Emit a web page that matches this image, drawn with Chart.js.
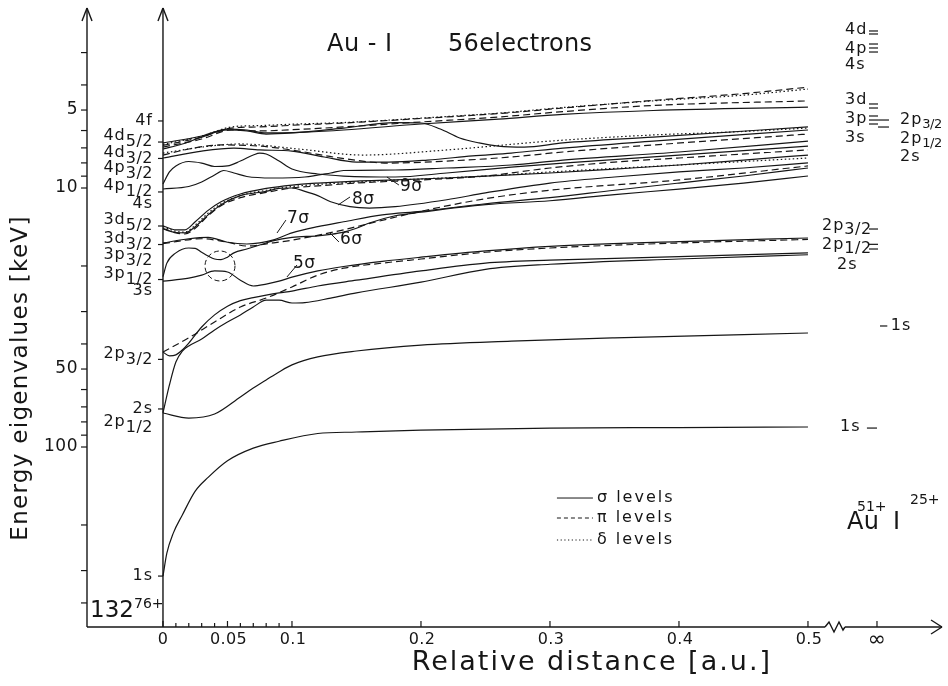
<!DOCTYPE html>
<html><head><meta charset="utf-8">
<script src="https://cdn.jsdelivr.net/npm/chart.js@4.4.1/dist/chart.umd.min.js"></script>
<style>html,body{margin:0;padding:0;background:#fff}canvas{display:block}</style>
</head><body>
<canvas id="c" width="948" height="686"></canvas>
<script>
// ---------- data: relative distance R [a.u.] and energy eigenvalue E [keV] ----------
// sigma (solid) levels
const rA  = [0,0.003,0.008,0.015,0.025,0.035,0.05,0.07,0.09,0.12,0.15,0.2,0.3,0.4,0.5];
const eA  = [315,257,215,183,148,131,113,101,95,88.7,87.5,86,84.5,84.1,83.7];
const rB  = [0,0.02,0.04,0.06,0.07,0.08,0.09,0.1,0.12,0.15,0.2,0.27,0.35,0.5];
const eB  = [73.9,77.3,74.6,64.1,59.2,55.1,51.3,48.2,44.9,42.6,40.4,39.0,37.9,36.3];
const rS  = [0,0.005,0.01,0.015,0.02,0.03,0.04,0.05,0.06,0.07,0.08,0.09,0.1,0.11,0.13,0.15,0.2,0.25,0.3,0.4,0.5];
const eS  = [73.9,57.6,47.0,42.6,40.7,38.3,35.3,32.9,30.9,28.8,27.1,27.1,27.8,27.7,26.6,25.4,23.1,20.6,19.7,18.8,18.1];
const rP  = [0,0.005,0.01,0.015,0.02,0.03,0.04,0.05,0.06,0.07,0.08,0.09,0.1,0.12,0.15,0.2,0.25,0.3,0.4,0.5];
const eP  = [43.0,44.5,44.1,42.2,39.7,34.4,30.9,28.6,27.2,26.5,25.9,25.4,25.0,23.9,22.7,20.9,19.5,19.0,18.4,17.8];
const r5s = [0,0.02,0.03,0.04,0.05,0.06,0.07,0.08,0.09,0.1,0.12,0.14,0.17,0.2,0.25,0.3,0.4,0.5];
const e5s = [22.9,22.3,21.7,20.9,21.1,22.7,23.9,23.5,22.9,22.1,20.9,20.1,19.2,18.5,17.5,16.8,16.1,15.6];
const r6s = [0,0.003,0.01,0.02,0.025,0.03,0.035,0.04,0.045,0.05,0.055,0.065,0.08,0.085,0.1,0.12,0.13,0.14,0.15,0.16,0.18,0.2,0.25,0.3,0.35,0.4,0.45,0.5];
const e6s = [22.0,19.5,17.8,17.05,17.1,17.7,18.3,18.8,18.9,18.5,17.8,17.2,16.3,16.0,15.5,15.3,15.1,14.8,14.3,13.65,12.8,12.4,11.6,11.2,10.6,10.1,9.57,8.99];
const r7s = [0,0.02,0.035,0.05,0.065,0.075,0.085,0.1,0.12,0.14,0.17,0.2,0.25,0.3,0.35,0.4,0.45,0.5];
const e7s = [16.3,15.7,15.5,16.2,16.45,16.3,15.9,14.9,14.1,13.5,12.7,12.3,11.5,10.9,10.2,9.57,8.99,8.37];
const r8s = [0,0.01,0.017,0.025,0.035,0.045,0.06,0.08,0.09,0.1,0.11,0.12,0.13,0.145,0.16,0.18,0.22,0.25,0.3,0.35,0.4,0.45,0.5];
const e8s = [14.4,14.85,14.9,14.1,12.7,11.6,10.7,10.3,10.04,10.0,10.3,10.7,11.3,11.8,11.95,11.8,11.1,10.45,9.57,9.07,8.67,8.37,8.0];
const r9s = [0,0.01,0.017,0.025,0.035,0.045,0.06,0.08,0.1,0.12,0.15,0.18,0.22,0.25,0.3,0.35,0.4,0.45,0.5];
const e9s = [14.0,14.5,14.5,13.5,12.2,11.3,10.55,10.04,9.74,9.57,9.40,9.31,9.15,8.99,8.75,8.45,8.15,7.80,7.46];
const rM4 = [0,0.02,0.03,0.04,0.047,0.055,0.065,0.085,0.11,0.13,0.14,0.18,0.22,0.27,0.31,0.4,0.5];
const eM4 = [10.09,9.87,9.48,8.91,8.56,8.75,9.03,9.15,9.07,8.75,8.56,8.52,8.37,8.15,7.80,7.26,6.59];
const rM3 = [0,0.005,0.01,0.02,0.03,0.04,0.05,0.06,0.07,0.075,0.08,0.09,0.1,0.12,0.14,0.18,0.22,0.27,0.31,0.4,0.5];
const eM3 = [9.65,8.67,8.22,7.90,8.01,8.26,8.22,7.87,7.46,7.33,7.39,7.87,8.45,8.83,8.99,9.07,8.75,8.30,8.01,7.46,6.89];
const rM2 = [0,0.03,0.055,0.075,0.1,0.125,0.15,0.175,0.205,0.24,0.27,0.31,0.38,0.5];
const eM2 = [7.66,7.20,7.01,7.13,7.20,7.59,7.94,7.94,7.80,7.52,7.33,7.01,6.59,5.97];
const rM1 = [0,0.015,0.03,0.05,0.065,0.08,0.1,0.14,0.18,0.2,0.215,0.23,0.245,0.26,0.28,0.31,0.38,0.5];
const eM1 = [7.07,6.76,6.36,5.97,6.02,6.19,6.13,5.87,5.59,5.61,5.92,6.41,6.70,6.89,6.95,6.70,6.36,5.81];
const rT4 = [0,0.03,0.05,0.065,0.08,0.11,0.14,0.2,0.26,0.31,0.38,0.5];
const eT4 = [6.70,6.30,5.92,5.97,6.13,6.08,5.97,5.66,5.42,5.20,5.02,4.87];
// pi (dashed) levels
const rDE = [0,0.02,0.04,0.06,0.08,0.1,0.12,0.14,0.17,0.2,0.25,0.3,0.4,0.5];
const eDE = [43.0,37.9,32.9,28.8,26.6,24.1,21.7,20.4,19.5,18.8,17.7,17.05,16.3,15.8];
const rDD = [0,0.03,0.05,0.065,0.085,0.1,0.14,0.15,0.2,0.25,0.3,0.4,0.5];
const eDD = [16.4,15.7,16.2,16.75,16.3,15.9,14.5,14.1,12.3,11.0,10.2,9.31,8.22];
const rDC = [0,0.01,0.017,0.025,0.035,0.045,0.06,0.08,0.1,0.12,0.15,0.2,0.25,0.3,0.35,0.4,0.5];
const eDC = [14.3,14.9,15.05,14.3,12.8,11.7,10.9,10.4,10.0,9.82,9.57,9.31,8.99,8.37,7.94,7.66,7.13];
const rDA = [0,0.02,0.045,0.075,0.105,0.135,0.175,0.22,0.27,0.31,0.38,0.5];
const eDA = [7.46,7.07,6.82,6.89,7.20,7.63,8.01,7.87,7.59,7.26,6.82,6.19];
const rT3 = [0,0.03,0.053,0.075,0.105,0.14,0.2,0.26,0.31,0.38,0.5];
const eT3 = [6.95,6.47,5.97,6.02,5.94,5.81,5.56,5.32,5.07,4.80,4.61];
const rT2 = [0,0.03,0.053,0.075,0.105,0.14,0.2,0.26,0.31,0.38,0.45,0.5];
const eT2 = [6.85,6.36,5.87,5.81,5.71,5.61,5.39,5.16,4.91,4.59,4.32,4.08];
// delta (dotted) levels
const rDU = [0,0.01,0.017,0.025,0.035,0.045,0.06,0.08,0.1,0.12,0.15,0.2,0.25,0.3,0.4,0.5];
const eDU = [14.1,14.7,14.8,13.9,12.5,11.5,10.7,10.2,9.87,9.69,9.48,9.23,8.99,8.67,8.15,7.66];
const rDT = [0,0.03,0.06,0.105,0.155,0.22,0.3,0.38,0.44,0.5];
const eDT = [7.33,6.95,6.76,7.07,7.46,7.13,6.59,6.24,6.08,5.87];
const rT1 = [0,0.03,0.053,0.075,0.105,0.14,0.2,0.26,0.31,0.38,0.45,0.5];
const eT1 = [6.79,6.30,5.81,5.74,5.66,5.59,5.37,5.14,4.89,4.61,4.38,4.15];

// axis ticks
const yTicks = [3,4,5,6,7,8,9,10,20,30,40,50,60,70,80,90,100,200,300,400];
const yTickLabels = [5,10,50,100];
const xMinorTicks = [0.01,0.02,0.03,0.04,0.06,0.07,0.08,0.09];
const xMajorTicks = [0,0.05,0.1,0.2,0.3,0.4,0.5];
const xTickLabels = ['0','0.05','0.1','0.2','0.3','0.4','0.5'];
const rInfinity = 0.5535;

// united-atom level labels (R = 0)
const uaMain = ['4f','4d','4d','4p','4p','4s','3d','3d','3p','3p','3s','2p','2s','2p','1s'];
const uaSub  = ['','5/2','3/2','3/2','1/2','','5/2','3/2','3/2','1/2','','3/2','','1/2',''];
const uaE    = [5.51,6.30,7.29,8.33,9.82,11.53,13.29,15.67,18.14,21.39,24.98,43.5,71.3,79.7,315];
const uaTick = [1,1,1,0,1,0,1,1,0,1,0,1,1,0,1];

// separated-atom levels (R = infinity)
const saAuMain = ['4d','4p','4s','3d','3p','3s'];
const saAuE    = [2.455,2.906,3.351,4.573,5.415,6.412];
const saIMain  = ['2p','2p','2s'];
const saISub   = ['3/2','1/2',''];
const saIE     = [5.46,6.47,7.59];
const saAuLMain = ['2p','2p','2s'];
const saAuLSub  = ['3/2','1/2',''];
const saAuLE    = [14.02,16.6,19.83];
const saMarkE   = [2.476,2.543,2.78,2.88,2.985,4.738,4.911,5.272,5.464,5.661,14.4,16.5,17.2];
const saLinkE   = [5.464,5.815];

const INK = '#161616';
const FONT = '"DejaVu Sans", sans-serif';

function pts(r, e) { return r.map((x, i) => ({x: x, y: e[i]})); }
const solid = [[rA,eA],[rB,eB],[rS,eS],[rP,eP],[r5s,e5s],[r6s,e6s],[r7s,e7s],[r8s,e8s],[r9s,e9s],[rM4,eM4],[rM3,eM3],[rM2,eM2],[rM1,eM1],[rT4,eT4]];
const dashed = [[rDE,eDE],[rDD,eDD],[rDC,eDC],[rDA,eDA],[rT3,eT3],[rT2,eT2]];
const dotted = [[rDU,eDU],[rDT,eDT],[rT1,eT1]];
const datasets = [];
solid.forEach(s => datasets.push({data: pts(s[0], s[1]), borderColor: INK, borderWidth: 1.2, borderDash: []}));
dashed.forEach(s => datasets.push({data: pts(s[0], s[1]), borderColor: INK, borderWidth: 1.2, borderDash: [7, 4]}));
dotted.forEach(s => datasets.push({data: pts(s[0], s[1]), borderColor: INK, borderWidth: 1.2, borderDash: [1.5, 2.5]}));

function setFont(ctx, size, ls) { ctx.font = size + 'px ' + FONT; ctx.letterSpacing = (ls || 0) + 'px'; }
function rich(ctx, x, y, parts, align) {
  let w = 0;
  const ws = parts.map(p => { setFont(ctx, p[1], p[3]); const m = ctx.measureText(p[0]).width; w += m; return m; });
  let cx = align === 'right' ? x - w : (align === 'center' ? x - w / 2 : x);
  ctx.textAlign = 'left'; ctx.textBaseline = 'middle';
  parts.forEach((p, i) => { setFont(ctx, p[1], p[3]); ctx.fillText(p[0], cx, y + (p[2] || 0)); cx += ws[i]; });
}
function seg(ctx, x1, y1, x2, y2) { ctx.beginPath(); ctx.moveTo(x1, y1); ctx.lineTo(x2, y2); ctx.stroke(); }

const decor = {
  id: 'decor',
  afterDraw(chart) {
    const {ctx, chartArea: ca} = chart;
    const xs = chart.scales.x, ys = chart.scales.y;
    const X = v => xs.getPixelForValue(v), Y = v => ys.getPixelForValue(v);
    ctx.save();
    ctx.strokeStyle = INK; ctx.fillStyle = INK; ctx.lineWidth = 1.4; ctx.setLineDash([]);
    const xl = ca.left, x0 = X(0), yb = ca.bottom, yt = ca.top + 3;
    // vertical axes with arrows
    seg(ctx, xl, yb, xl, yt); seg(ctx, xl - 5, yt + 13, xl, yt); seg(ctx, xl + 5, yt + 13, xl, yt);
    seg(ctx, x0, yb, x0, yt); seg(ctx, x0 - 5, yt + 13, x0, yt); seg(ctx, x0 + 5, yt + 13, x0, yt);
    // horizontal axis with break and arrow
    const zb = X(0.5132), ze = X(0.5287), xr = ca.right;
    seg(ctx, xl, yb, zb, yb);
    ctx.beginPath(); ctx.moveTo(zb, yb); ctx.lineTo(zb + 4, yb - 5); ctx.lineTo(zb + 9, yb + 5); ctx.lineTo(zb + 14, yb - 5); ctx.lineTo(ze - 2, yb + 3); ctx.lineTo(ze, yb); ctx.stroke();
    seg(ctx, ze, yb, xr, yb); seg(ctx, xr - 11, yb - 7, xr, yb); seg(ctx, xr - 11, yb + 7, xr, yb);
    // y ticks and labels
    ctx.lineWidth = 1.2;
    yTicks.forEach(v => seg(ctx, xl - 6, Y(v), xl, Y(v)));
    yTickLabels.forEach(v => rich(ctx, xl - 9, Y(v), [[String(v), 17, 0, 0.5]], 'right'));
    // x ticks and labels
    xMinorTicks.forEach(v => seg(ctx, X(v), yb, X(v), yb - 4));
    xMajorTicks.forEach(v => seg(ctx, X(v), yb, X(v), yb - 6));
    seg(ctx, X(rInfinity), yb, X(rInfinity), yb - 6);
    xTickLabels.forEach((t, i) => rich(ctx, X(xMajorTicks[i]) + (i === 0 ? 0 : 1), yb + 13, [[t, 16, 0, 0.3]], 'center'));
    rich(ctx, X(rInfinity), yb + 13, [['\u221E', 22, 0, 0]], 'center');
    // axis titles
    rich(ctx, 772, 663, [['Relative distance [a.u.]', 27, 0, 2]], 'right');
    ctx.save(); ctx.translate(21, 378); ctx.rotate(-Math.PI / 2);
    rich(ctx, 0, 0, [['Energy eigenvalues [keV]', 23, 0, 1.3]], 'center');
    ctx.restore();
    // title
    rich(ctx, 327, 45, [['Au - I', 24, 0, 0.5]], 'left');
    rich(ctx, 448, 45, [['56electrons', 24, 0, 0.3]], 'left');
    // united-atom labels
    uaMain.forEach((m, i) => {
      const y = Y(uaE[i]);
      const parts = [[m, 16, 0, 1]];
      if (uaSub[i]) parts.push([uaSub[i], 16, 6, 0.5]);
      rich(ctx, x0 - 10, y, parts, 'right');
      if (uaTick[i]) seg(ctx, x0 - 5, Y(uaE[i]) + (uaSub[i] ? 6 : 0), x0, Y(uaE[i]) + (uaSub[i] ? 6 : 0));
    });
    rich(ctx, xl + 3, Y(422), [['132', 23, 2, 0]], 'left');
    rich(ctx, xl + 47, Y(422), [['76+', 14, -5, 0]], 'left');
    // separated-atom labels
    saAuMain.forEach((m, i) => rich(ctx, X(0.5287), Y(saAuE[i]), [[m, 16, 0, 1]], 'left'));
    saIMain.forEach((m, i) => {
      const parts = [[m, 16, 0, 1]]; if (saISub[i]) parts.push([saISub[i], 13, 5, -0.5]);
      rich(ctx, X(0.5713), Y(saIE[i]), parts, 'left');
    });
    saAuLMain.forEach((m, i) => {
      const parts = [[m, 16, 0, 1]]; if (saAuLSub[i]) parts.push([saAuLSub[i], 16, 4, 0.5]);
      rich(ctx, X(i === 2 ? 0.5225 : 0.5109), Y(saAuLE[i]), parts, 'left');
    });
    rich(ctx, X(0.5642), Y(34.1), [['1s', 16, 0, 1]], 'left');
    rich(ctx, X(0.5248), Y(83.7), [['1s', 16, 0, 1]], 'left');
    ctx.lineWidth = 1.2;
    saMarkE.forEach(v => seg(ctx, X(0.5473), Y(v), X(0.5543), Y(v)));
    saLinkE.forEach(v => seg(ctx, X(0.5543), Y(v), X(0.5628), Y(v)));
    seg(ctx, X(0.5558), Y(34.1), X(0.5615), Y(34.1));
    seg(ctx, X(0.5457), Y(84.5), X(0.5535), Y(84.5));
    // sigma labels with leaders
    const sig = [['5\u03C3', 0.1008, 19.56, 0.0961, 22.06, 0.1039, 19.83],
                 ['7\u03C3', 0.0961, 13.12, 0.0884, 14.92, 0.0953, 13.30],
                 ['6\u03C3', 0.1372, 15.88, 0.1295, 14.92, 0.1364, 16.16],
                 ['8\u03C3', 0.1465, 11.13, 0.1357, 11.63, 0.1450, 10.83],
                 ['9\u03C3', 0.1837, 9.868, 0.1736, 9.068, 0.1829, 9.737]];
    ctx.lineWidth = 1;
    sig.forEach(s => {
      seg(ctx, X(s[3]), Y(s[4]), X(s[5]), Y(s[6]));
      rich(ctx, X(s[1]), Y(s[2]), [[s[0], 17, 0, 0.5]], 'left');
    });
    // dashed circle (avoided crossing)
    ctx.setLineDash([5, 3]); ctx.beginPath();
    ctx.arc(X(0.0442), Y(20.0), 15, 0, Math.PI * 2); ctx.stroke(); ctx.setLineDash([]);
    // legend
    const lg = [['\u03C3 levels', [], 157.4], ['\u03C0 levels', [4, 3], 188.0], ['\u03B4 levels', [1.2, 2.5], 228.6]];
    lg.forEach(l => {
      ctx.setLineDash(l[1]); seg(ctx, X(0.3054), Y(l[2]), X(0.3333), Y(l[2])); ctx.setLineDash([]);
      rich(ctx, X(0.3364), Y(l[2]), [[l[0], 16, 0, 2]], 'left');
    });
    // ion label
    rich(ctx, X(0.5302), Y(196.6), [['Au', 24, 0, 0.5]], 'left');
    rich(ctx, X(0.5380), Y(170.5), [['51+', 14, 0, 0]], 'left');
    rich(ctx, X(0.5659), Y(196.6), [['I', 24, 0, 0]], 'left');
    rich(ctx, X(0.5791), Y(160.2), [['25+', 14, 0, 0]], 'left');
    ctx.restore();
  }
};

new Chart(document.getElementById('c').getContext('2d'), {
  type: 'line',
  data: {datasets: datasets},
  options: {
    responsive: false, animation: false, devicePixelRatio: 1,
    layout: {padding: {left: 87, right: 6, top: 5, bottom: 59}},
    plugins: {legend: {display: false}, tooltip: {enabled: false}},
    elements: {point: {radius: 0}, line: {cubicInterpolationMode: 'monotone', fill: false}},
    scales: {
      x: {type: 'linear', min: -0.0589, max: 0.6039, display: false},
      y: {type: 'logarithmic', reverse: true, min: 1.9653, max: 495.4, display: false}
    }
  },
  plugins: [decor]
});
</script>
</body></html>
